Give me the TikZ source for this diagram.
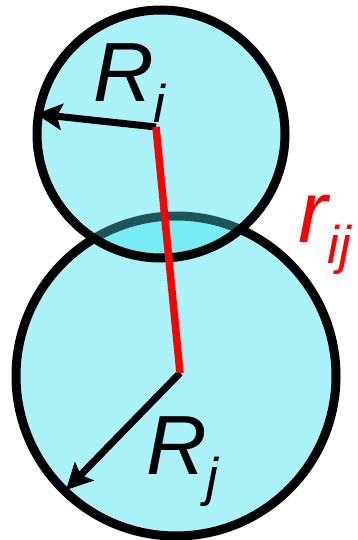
\documentclass[tikz,border=0pt]{standalone}
\usepackage{fontspec}
\setmainfont{Liberation Sans}
\usetikzlibrary{arrows.meta}
\definecolor{ballcyan}{RGB}{170,242,248}
\definecolor{overlapcyan}{RGB}{120,236,244}
\definecolor{hiddenrim}{RGB}{30,85,88}
\newcommand{\radlbl}[2]{{\fontsize{84}{84}\selectfont\itshape #1\raisebox{-21pt}{\fontsize{53}{53}\selectfont #2}}}
\begin{document}
\begin{tikzpicture}[x=1pt, y=-1pt, line join=round, >={Stealth[length=26pt, width=26pt, inset=5pt]}]
			\useasboundingbox (0,0) rectangle (358,540);
			\path (161,134) coordinate (Ci) (176,376) coordinate (Cj)
				(156,127) coordinate (Pi) (180,373) coordinate (Pj)
				(36,114) coordinate (Ti) (66,490) coordinate (Tj);
			\fill[ballcyan] (Cj) circle (160);
			\draw[line width=9pt] (Cj) circle (160);
			\fill[ballcyan] (Ci) circle (124);
			% overlap seen through the upper ball
			\begin{scope}
				\clip (Ci) circle (124);
				\fill[overlapcyan] (Cj) circle (160);
				\draw[hiddenrim, line width=9pt] (Cj) circle (160);
			\end{scope}
			\draw[line width=9pt] (Ci) circle (124);
			\foreach \x/\y in {Pi/Ti,Pj/Tj} \draw[->, line width=7pt] (\x)--(\y);
			\draw[red, line width=7.5pt] (Pi)--(Pj);
			\node[anchor=base west, inner sep=0] (Ri) at (93,102) {\radlbl{R}{i}};
			\node[anchor=base west, inner sep=0] (Rj) at (146,474) {\radlbl{R}{j}};
			\node[anchor=base west, inner sep=0, red] (rij) at (298,242) {{\fontsize{88}{88}\selectfont\itshape r\raisebox{-21pt}{\fontsize{53}{53}\selectfont ij}}};
		\end{tikzpicture}
\end{document}
